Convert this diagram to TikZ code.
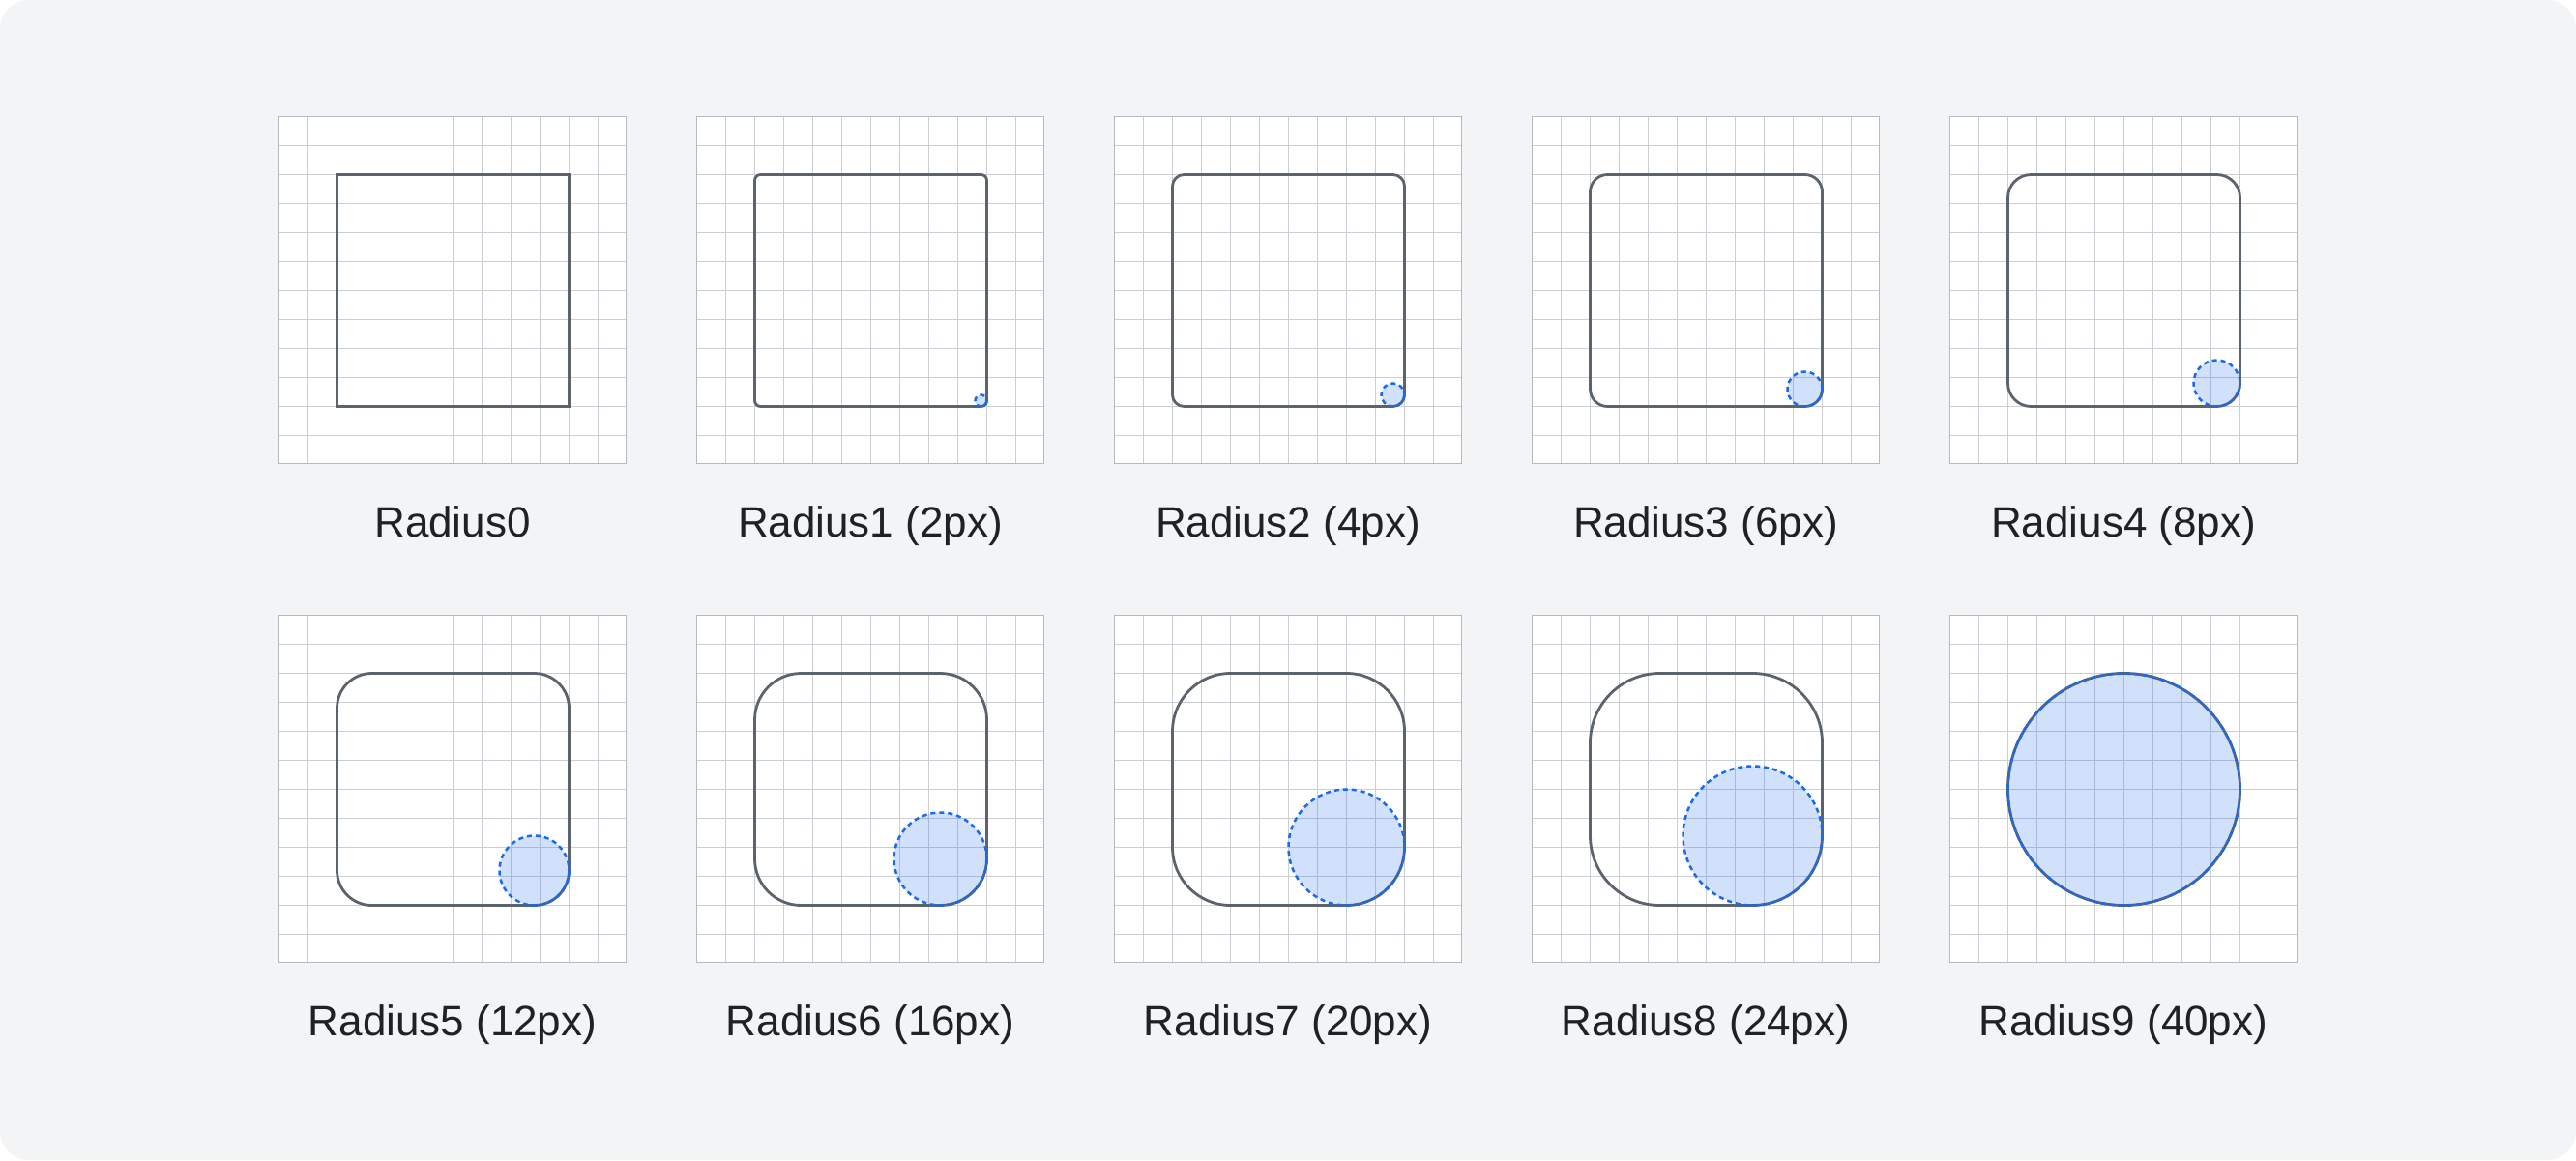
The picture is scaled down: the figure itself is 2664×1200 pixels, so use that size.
\documentclass[tikz,border=0pt]{standalone}
\usepackage{fontspec}
\setmainfont{Liberation Sans}
\definecolor{bgc}{HTML}{F3F4F6}
\definecolor{gridc}{HTML}{CBCFD5}
\definecolor{framec}{HTML}{B4BAC1}
\definecolor{shapec}{HTML}{5B636D}
\definecolor{accentc}{HTML}{1A6AF0}
\definecolor{txtc}{HTML}{202124}
\tikzset{
  gridline/.style={draw=gridc, line width=1.2pt},
  framebox/.style={draw=framec, line width=1.9pt},
  shapebox/.style={draw=shapec, line width=2.8pt},
  radcirc/.style={draw=accentc, line width=2.5pt, dash pattern=on 5pt off 4pt, fill=accentc, fill opacity=0.2, draw opacity=1},
  lbl/.style={anchor=base, text=txtc, inner sep=0pt, font=\fontsize{44}{52}\selectfont},
}
\newcommand\radpanel[5]{%
  \fill[white] (#1,#2) rectangle ++(359,359);
  \foreach \k in {1,...,11} {
    \draw[gridline] ({#1+30*\k},#2) -- ++(0,359);
    \draw[gridline] (#1,{#2+30*\k}) -- ++(359,0);
  }
  \draw[framebox] (#1,#2) rectangle ++(359,359);
  \draw[shapebox, rounded corners=#3pt] ({#1+60},{#2+60}) rectangle ({#1+300},{#2+300});
  \ifnum#3>0
    \path[radcirc] ({#1+300-#3},{#2+300-#3}) circle[radius=#3];
  \fi
  \node[lbl] (#5) at ({#1+179.5},{#2+434.5}) {#4};
}
\begin{document}
\begin{tikzpicture}[x=1pt,y=-1pt]
\useasboundingbox (0,0) rectangle (2664,1200);
\fill[white] (0,0) rectangle (2664,1200);
\fill[bgc, rounded corners=30pt] (0,0) rectangle (2664,1200);
\radpanel{288.5}{120.5}{0}{Radius0}{r0}
\radpanel{720.5}{120.5}{6}{Radius1 (2px)}{r1}
\radpanel{1152.5}{120.5}{12}{Radius2 (4px)}{r2}
\radpanel{1584.5}{120.5}{18}{Radius3 (6px)}{r3}
\radpanel{2016.5}{120.5}{24}{Radius4 (8px)}{r4}
\radpanel{288.5}{636.5}{36}{Radius5 (12px)}{r5}
\radpanel{720.5}{636.5}{48}{Radius6 (16px)}{r6}
\radpanel{1152.5}{636.5}{60}{Radius7 (20px)}{r7}
\radpanel{1584.5}{636.5}{72}{Radius8 (24px)}{r8}
\radpanel{2016.5}{636.5}{120}{Radius9 (40px)}{r9}
\end{tikzpicture}
\end{document}
